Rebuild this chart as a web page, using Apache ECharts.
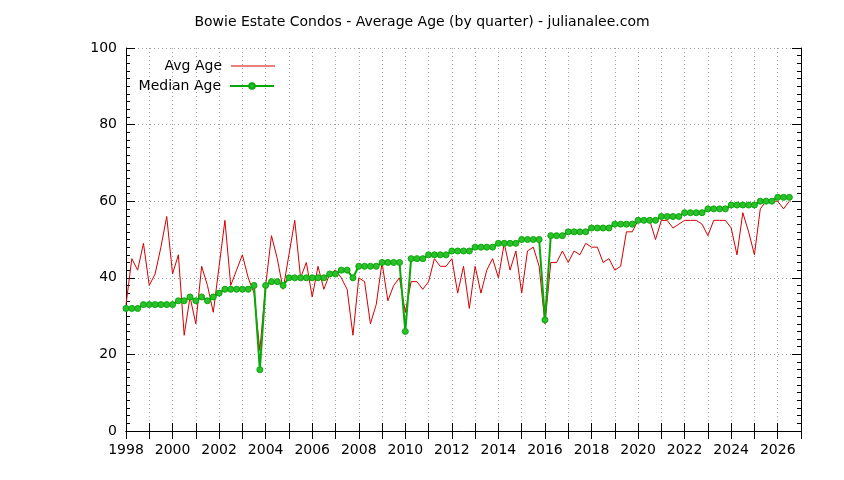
<!DOCTYPE html>
<html>
<head>
<meta charset="utf-8">
<title>Bowie Estate Condos - Average Age</title>
<script src="https://cdn.jsdelivr.net/npm/echarts@6/dist/echarts.min.js"></script>
<style>
  html, body { margin: 0; padding: 0; background: #fff; }
  #chart { width: 844px; height: 480px; }
</style>
</head>
<body>
<div id="chart"></div>
<script>
// Quarterly data, first quarter is 1998 Q1
const firstYear = 1998;
const avgAge = [
    33, 45, 42, 49, 38, 41, 48, 56, 41, 46, 25, 35, 28, 43, 38, 31,
    43, 55, 38, 42, 46, 40, 36, 21, 38, 51, 45, 37, 46, 55, 40, 44,
    35, 43, 37, 41, 42, 40, 37, 25, 40, 39, 28, 33, 44, 34, 38, 40,
    31, 39, 39, 37, 39, 45, 43, 43, 45, 36, 43, 32, 43, 36, 42, 45,
    40, 49, 42, 47, 36, 47, 48, 43, 28, 44, 44, 47, 44, 47, 46, 49,
    48, 48, 44, 45, 42, 43, 52, 52, 55, 55, 55, 50, 55, 55, 53, 54,
    55, 55, 55, 54, 51, 55, 55, 55, 53, 46, 57, 52, 46, 58, 60, 60,
    60, 58, 60
];
const medianAge = [
    32, 32, 32, 33, 33, 33, 33, 33, 33, 34, 34, 35, 34, 35, 34, 35,
    36, 37, 37, 37, 37, 37, 38, 16, 38, 39, 39, 38, 40, 40, 40, 40,
    40, 40, 40, 41, 41, 42, 42, 40, 43, 43, 43, 43, 44, 44, 44, 44,
    26, 45, 45, 45, 46, 46, 46, 46, 47, 47, 47, 47, 48, 48, 48, 48,
    49, 49, 49, 49, 50, 50, 50, 50, 29, 51, 51, 51, 52, 52, 52, 52,
    53, 53, 53, 53, 54, 54, 54, 54, 55, 55, 55, 55, 56, 56, 56, 56,
    57, 57, 57, 57, 58, 58, 58, 58, 59, 59, 59, 59, 59, 60, 60, 60,
    61, 61, 61
];

// Quarter labels, year + quarter -> position on the time axis
const quarters = [];
for (let i = 0; i < avgAge.length; i++) {
    quarters.push({ year: firstYear + Math.floor(i / 4), q: (i % 4) + 1 });
}
const quarterPos = quarters.map(d => d.year + (d.q - 1) / 4);

const avgData = quarterPos.map((x, i) => [x, avgAge[i]]);
const medianData = quarterPos.map((x, i) => [x, medianAge[i]]);

const font = 'DejaVu Sans';
const red = '#d40000';
const green = '#08a808';
const gridLine = { show: true, lineStyle: { color: '#a0a0a0', type: [1, 3], width: 1 } };
const legendText = { fontFamily: font, fontSize: 14, color: '#000', padding: [0, 4, 0, 0] };

const chart = echarts.init(document.getElementById('chart'));
let option = {
    animation: false,
    backgroundColor: '#ffffff',
    title: {
        text: 'Bowie Estate Condos - Average Age (by quarter) - julianalee.com',
        left: 'center',
        top: 10,
        textStyle: { fontFamily: font, fontSize: 14, fontWeight: 'normal', color: '#000' }
    },
    legend: [
        {
            data: [{ name: 'Avg Age', icon: 'rect' }],
            right: 569,
            top: 59,
            align: 'right',
            padding: 0,
            itemWidth: 44,
            itemHeight: 1,
            itemStyle: { color: red },
            textStyle: legendText
        },
        {
            data: ['Median Age'],
            right: 569,
            top: 79,
            align: 'right',
            padding: 0,
            itemWidth: 44,
            itemHeight: 7,
            textStyle: legendText
        }
    ],
    grid: { left: 126, right: 43, top: 48, bottom: 49 },
    xAxis: [
        {
            type: 'value',
            min: 1998,
            max: 2027,
            interval: 1,
            axisLine: { show: true, lineStyle: { color: '#000', width: 1 } },
            axisTick: { inside: true, length: 8, lineStyle: { color: '#000' } },
            axisLabel: {
                fontFamily: font, fontSize: 14, color: '#000', margin: 12,
                formatter: v => (v % 2 === 0 ? String(v) : '')
            },
            splitLine: gridLine
        },
        {
            type: 'value',
            position: 'top',
            min: 1998,
            max: 2027,
            interval: 1,
            axisLine: { show: true, lineStyle: { color: '#000', width: 1 } },
            axisTick: { inside: true, length: 8, lineStyle: { color: '#000' } },
            axisLabel: { show: false },
            splitLine: { show: false }
        }
    ],
    yAxis: [
        {
            type: 'value',
            min: 0,
            max: 100,
            interval: 20,
            axisLine: { show: true, lineStyle: { color: '#000', width: 1 } },
            axisTick: { inside: true, length: 9, lineStyle: { color: '#000' } },
            minorTick: { show: true, splitNumber: 10, length: 4, lineStyle: { color: '#000' } },
            axisLabel: { fontFamily: font, fontSize: 14, color: '#000', margin: 9 },
            splitLine: gridLine
        },
        {
            type: 'value',
            position: 'right',
            min: 0,
            max: 100,
            interval: 20,
            axisLine: { show: true, lineStyle: { color: '#000', width: 1 } },
            axisTick: { inside: true, length: 9, lineStyle: { color: '#000' } },
            minorTick: { show: true, splitNumber: 10, length: 4, lineStyle: { color: '#000' } },
            axisLabel: { show: false },
            splitLine: { show: false }
        }
    ],
    series: [
        {
            name: 'Avg Age',
            type: 'line',
            data: avgData,
            showSymbol: false,
            symbol: 'none',
            itemStyle: { color: red },
            lineStyle: { color: red, width: 1 }
        },
        {
            name: 'Median Age',
            type: 'line',
            data: medianData,
            symbol: 'circle',
            symbolSize: 6,
            itemStyle: { color: '#2cc02c', borderColor: green, borderWidth: 1 },
            lineStyle: { color: green, width: 2 }
        }
    ]
};
chart.setOption(option);
</script>
</body>
</html>
